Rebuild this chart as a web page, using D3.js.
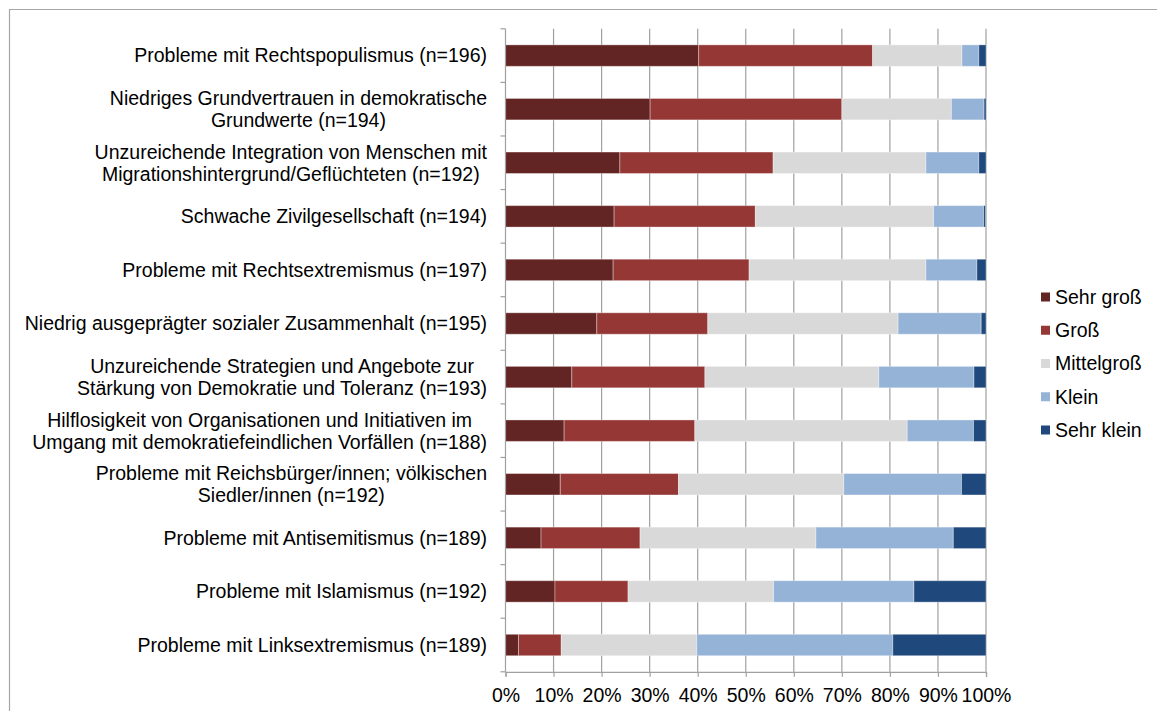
<!DOCTYPE html>
<html>
<head>
<meta charset="utf-8">
<script src="https://cdn.jsdelivr.net/npm/d3@7"></script>
<style>
  body { margin: 0; background: #fff; }
  svg { display: block; font-family: "Liberation Sans", Arial, sans-serif; }
</style>
</head>
<body>
<svg id="chart" width="1157" height="711"></svg>
<script>
// categories, top to bottom (multi-line labels split with "|")
const categories = [
  "Probleme mit Rechtspopulismus (n=196)",
  "Niedriges Grundvertrauen in demokratische|Grundwerte (n=194)",
  "Unzureichende Integration von Menschen mit|Migrationshintergrund/Geflüchteten (n=192)",
  "Schwache Zivilgesellschaft (n=194)",
  "Probleme mit Rechtsextremismus (n=197)",
  "Niedrig ausgeprägter sozialer Zusammenhalt (n=195)",
  "Unzureichende Strategien und Angebote zur|Stärkung von Demokratie und Toleranz (n=193)",
  "Hilflosigkeit von Organisationen und Initiativen im|Umgang mit demokratiefeindlichen Vorfällen (n=188)",
  "Probleme mit Reichsbürger/innen; völkischen|Siedler/innen (n=192)",
  "Probleme mit Antisemitismus (n=189)",
  "Probleme mit Islamismus (n=192)",
  "Probleme mit Linksextremismus (n=189)"
];

const seriesNames = ["Sehr groß", "Groß", "Mittelgroß", "Klein", "Sehr klein"];
const seriesColors = ["#632523", "#953735", "#d9d9d9", "#95b3d7", "#1f497d"];

// percent values per series, same order as categories
const sehrGross = [40.2, 30.1, 23.8, 22.6, 22.4, 19.0, 13.8, 12.2, 11.4, 7.4, 10.3, 2.7];
const gross     = [36.2, 39.9, 31.9, 29.4, 28.3, 23.1, 27.7, 27.2, 24.6, 20.6, 15.2, 8.9];
const mittel    = [18.6, 22.8, 31.8, 37.1, 36.8, 39.6, 36.2, 44.2, 34.4, 36.6, 30.3, 28.2];
const klein     = [3.5, 6.8, 11.0, 10.4, 10.6, 17.3, 19.8, 13.8, 24.5, 28.6, 29.2, 40.8];
const sehrKlein = [1.5, 0.4, 1.5, 0.4, 1.9, 1.0, 2.5, 2.6, 5.1, 6.8, 15.0, 19.4];

const xTicks = [0, 10, 20, 30, 40, 50, 60, 70, 80, 90, 100];

const svg = d3.select("#chart");
const gridColor = "#a0a0a0";

// outer frame
svg.append("path")
  .attr("d", "M9.5,711 V9.5 H1157")
  .attr("fill", "none")
  .attr("stroke", "#a6a6a6")
  .attr("stroke-width", 1.2);

const plotLeft = 505.5, plotRight = 986, plotTop = 28.8, plotBottom = 671.8;

const x = d3.scaleLinear().domain([0, 100]).range([plotLeft, plotRight]);
const y = d3.scaleBand().domain(d3.range(categories.length))
  .range([plotTop, plotBottom]).paddingInner(0.6).paddingOuter(0.3);

const table = categories.map((c, i) => ({
  key: i,
  "Sehr groß": sehrGross[i],
  "Groß": gross[i],
  "Mittelgroß": mittel[i],
  "Klein": klein[i],
  "Sehr klein": sehrKlein[i]
}));
const stacked = d3.stack().keys(seriesNames)(table);
const color = d3.scaleOrdinal(seriesNames, seriesColors);

// vertical gridlines
svg.append("g")
  .selectAll("line")
  .data(xTicks.slice(1))
  .join("line")
  .attr("x1", d => x(d)).attr("x2", d => x(d))
  .attr("y1", plotTop).attr("y2", plotBottom)
  .attr("stroke", gridColor)
  .attr("stroke-width", 1.2);

// bars
svg.append("g")
  .selectAll("g")
  .data(stacked)
  .join("g")
  .attr("fill", d => color(d.key))
  .selectAll("rect")
  .data(d => d)
  .join("rect")
  .attr("x", d => x(d[0]))
  .attr("width", d => x(d[1]) - x(d[0]))
  .attr("y", d => y(d.data.key))
  .attr("height", y.bandwidth())
  .attr("stroke", "#fff")
  .attr("stroke-opacity", 0.35)
  .attr("stroke-width", 1);

// x axis
const xAxis = svg.append("g")
  .attr("transform", `translate(0,${plotBottom})`)
  .call(d3.axisBottom(x).tickValues(xTicks).tickFormat(d => d + "%").tickSize(5).tickPadding(11));
xAxis.select(".domain").attr("stroke", gridColor).attr("stroke-width", 1.2);
xAxis.selectAll(".tick line").attr("stroke", gridColor).attr("stroke-width", 1.2);
xAxis.selectAll("text")
  .attr("font-size", 19.5)
  .attr("font-family", "Liberation Sans, Arial, sans-serif")
  .attr("fill", "#000");

// y axis line with boundary ticks
const bounds = d3.range(categories.length + 1).map(i => plotTop + i * y.step());
svg.append("line")
  .attr("x1", plotLeft).attr("x2", plotLeft)
  .attr("y1", plotTop).attr("y2", plotBottom)
  .attr("stroke", gridColor).attr("stroke-width", 1.2);
svg.append("g")
  .selectAll("line")
  .data(bounds)
  .join("line")
  .attr("x1", plotLeft - 5).attr("x2", plotLeft)
  .attr("y1", d => d).attr("y2", d => d)
  .attr("stroke", gridColor).attr("stroke-width", 1.2);

// category labels: block right-aligned, lines centred within block
const labelRight = 487, lineH = 22;
categories.forEach((c, i) => {
  const lines = c.split("|");
  const cy = y(i) + y.bandwidth() / 2;
  const t = svg.append("text")
    .attr("font-size", 19.5)
    .attr("fill", "#000")
    .attr("text-anchor", "middle");
  const spans = lines.map((ln, j) => t.append("tspan")
    .attr("y", cy + (j - (lines.length - 1) / 2) * lineH)
    .attr("dy", "0.35em")
    .text(ln));
  const maxW = d3.max(spans, s => s.node().getComputedTextLength());
  spans.forEach(s => s.attr("x", labelRight - maxW / 2));
});

// legend
const legend = svg.append("g")
  .selectAll("g")
  .data(seriesNames)
  .join("g")
  .attr("transform", (d, i) => `translate(1041,${297 + i * 33.25})`);
legend.append("rect")
  .attr("x", 0).attr("y", -4.5)
  .attr("width", 9).attr("height", 9)
  .attr("fill", d => color(d));
legend.append("text")
  .attr("x", 14)
  .attr("dy", "0.35em")
  .attr("font-size", 19.5)
  .attr("fill", "#000")
  .text(d => d);
</script>
</body>
</html>
